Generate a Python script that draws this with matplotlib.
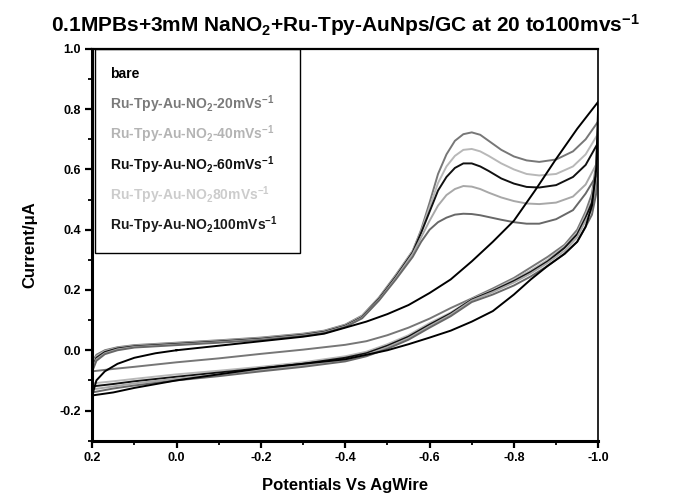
import numpy as np
import matplotlib
matplotlib.use("Agg")
from matplotlib import pyplot as plt
from matplotlib.patches import Rectangle

plt.rcParams['font.family'] = ['Liberation Sans', 'DejaVu Sans']
plt.rcParams['font.weight'] = 'bold'
plt.rcParams['mathtext.fontset'] = 'custom'
plt.rcParams['mathtext.rm'] = 'Liberation Sans:bold'
plt.rcParams['mathtext.it'] = 'Liberation Sans:bold'
plt.rcParams['mathtext.bf'] = 'Liberation Sans:bold'

# potential grid (V), forward scan 0.2 -> -1.0 and reverse scan -1.0 -> 0.2
e_fwd = [0.2, 0.19, 0.17, 0.14, 0.1, 0.0, -0.1, -0.2, -0.3, -0.35, -0.4, -0.44, -0.48,
         -0.52, -0.56, -0.58, -0.6, -0.62, -0.64, -0.66, -0.68, -0.7, -0.72, -0.74,
         -0.77, -0.8, -0.83, -0.86, -0.9, -0.94, -0.97, -1.0]
e_rev = [-1.0, -0.995, -0.985, -0.97, -0.95, -0.92, -0.88, -0.84, -0.8, -0.75, -0.7,
         -0.65, -0.6, -0.55, -0.5, -0.45, -0.4, -0.3, -0.2, -0.1, 0.0, 0.1, 0.15, 0.2]

# Ru-Tpy-Au curves, current (uA)
fwd_20 = [-0.04, -0.015, 0.0, 0.01, 0.017, 0.025, 0.033, 0.042, 0.055, 0.065, 0.085, 0.115,
          0.175, 0.25, 0.33, 0.40, 0.49, 0.585, 0.65, 0.695, 0.717, 0.723, 0.715, 0.695,
          0.665, 0.643, 0.63, 0.625, 0.633, 0.66, 0.70, 0.76]
rev_20 = [0.76, 0.62, 0.52, 0.46, 0.40, 0.35, 0.31, 0.275, 0.24, 0.205, 0.172, 0.14, 0.105,
          0.075, 0.05, 0.03, 0.018, 0.002, -0.012, -0.027, -0.04, -0.055, -0.062, -0.07]
fwd_40 = [-0.05, -0.02, -0.003, 0.008, 0.015, 0.023, 0.031, 0.04, 0.053, 0.063, 0.083,
          0.113, 0.172, 0.247, 0.33, 0.395, 0.475, 0.555, 0.61, 0.645, 0.665, 0.668, 0.66,
          0.645, 0.62, 0.6, 0.585, 0.58, 0.585, 0.61, 0.65, 0.72]
rev_40 = [0.72, 0.6, 0.5, 0.45, 0.39, 0.345, 0.3, 0.265, 0.235, 0.2, 0.17, 0.125, 0.09,
          0.05, 0.02, -0.005, -0.02, -0.04, -0.055, -0.068, -0.08, -0.095, -0.103, -0.11]
fwd_60 = [-0.06, -0.025, -0.006, 0.006, 0.013, 0.021, 0.029, 0.038, 0.051, 0.061, 0.081,
          0.11, 0.17, 0.244, 0.325, 0.39, 0.46, 0.53, 0.575, 0.605, 0.62, 0.62, 0.61,
          0.595, 0.57, 0.553, 0.542, 0.54, 0.548, 0.575, 0.615, 0.69]
rev_60 = [0.69, 0.58, 0.49, 0.44, 0.385, 0.34, 0.295, 0.26, 0.23, 0.197, 0.168, 0.122,
          0.085, 0.045, 0.015, -0.01, -0.025, -0.045, -0.06, -0.074, -0.088, -0.103,
          -0.112, -0.12]
fwd_80 = [-0.065, -0.03, -0.01, 0.003, 0.011, 0.019, 0.027, 0.036, 0.049, 0.059, 0.079,
          0.108, 0.167, 0.24, 0.32, 0.375, 0.43, 0.48, 0.515, 0.535, 0.545, 0.543, 0.535,
          0.523, 0.507, 0.495, 0.487, 0.485, 0.49, 0.51, 0.55, 0.63]
rev_80 = [0.63, 0.55, 0.47, 0.43, 0.375, 0.33, 0.29, 0.255, 0.225, 0.193, 0.165, 0.118,
          0.08, 0.04, 0.01, -0.015, -0.032, -0.05, -0.066, -0.08, -0.094, -0.11, -0.12,
          -0.13]
fwd_100 = [-0.07, -0.035, -0.013, 0.0, 0.009, 0.017, 0.025, 0.034, 0.047, 0.057, 0.077,
           0.106, 0.165, 0.235, 0.31, 0.36, 0.4, 0.425, 0.44, 0.45, 0.453, 0.452, 0.448,
           0.442, 0.433, 0.425, 0.42, 0.42, 0.435, 0.465, 0.52, 0.59]
rev_100 = [0.59, 0.52, 0.45, 0.41, 0.36, 0.32, 0.28, 0.245, 0.215, 0.185, 0.16, 0.113,
           0.075, 0.035, 0.005, -0.02, -0.037, -0.055, -0.07, -0.086, -0.1, -0.117,
           -0.127, -0.14]

# bare electrode, scan starts at 0.0 V
e_bare = [0.0, -0.1, -0.2, -0.3, -0.35, -0.4, -0.45, -0.5, -0.55, -0.6, -0.65, -0.7, -0.75,
          -0.8, -0.85, -0.9, -0.95, -1.0, -0.995, -0.985, -0.97, -0.95, -0.92, -0.88,
          -0.84, -0.8, -0.75, -0.7, -0.65, -0.6, -0.55, -0.5, -0.45, -0.4, -0.3, -0.2,
          -0.1, 0.0, 0.1, 0.15, 0.2, 0.19, 0.17, 0.14, 0.1, 0.05, 0.0]
i_bare = [0.0, 0.015, 0.03, 0.045, 0.055, 0.075, 0.095, 0.12, 0.15, 0.19, 0.235, 0.295,
          0.36, 0.43, 0.53, 0.635, 0.735, 0.825, 0.6, 0.48, 0.41, 0.36, 0.32, 0.28, 0.235,
          0.185, 0.13, 0.095, 0.065, 0.042, 0.02, 0.0, -0.015, -0.03, -0.045, -0.06, -0.08,
          -0.1, -0.125, -0.14, -0.15, -0.1, -0.07, -0.045, -0.025, -0.01, 0.0]

labels = ['bare',
          r'Ru-Tpy-Au-NO$_2$-20mVs$^{-1}$',
          r'Ru-Tpy-Au-NO$_2$-40mVs$^{-1}$',
          r'Ru-Tpy-Au-NO$_2$-60mVs$^{-1}$',
          r'Ru-Tpy-Au-NO$_2$80mVs$^{-1}$',
          r'Ru-Tpy-Au-NO$_2$100mVs$^{-1}$']
label_colors = ['#000000', '#7a7a7a', '#b4b4b4', '#111111', '#cccccc', '#1a1a1a']
line_colors = ['#000000', '#777777', '#b8b8b8', '#111111', '#a8a8a8', '#686868']

fig = plt.figure(figsize=(6.73, 4.94), dpi=100)
ax = fig.add_axes([0.137, 0.108, 0.752, 0.793])

ru = [(fwd_20, rev_20), (fwd_40, rev_40), (fwd_60, rev_60), (fwd_80, rev_80), (fwd_100, rev_100)]
for k, (f, r) in enumerate(ru):
    ax.plot(e_fwd + e_rev, f + r, color=line_colors[k + 1], lw=1.4)
ax.plot(e_bare, i_bare, color=line_colors[0], lw=1.4)

ax.set_xlim(0.2, -1.0)
ax.set_ylim(-0.3, 1.0)
ax.set_xticks([0.2, 0.0, -0.2, -0.4, -0.6, -0.8, -1.0])
ax.set_xticklabels(['0.2', '0.0', '-0.2', '-0.4', '-0.6', '-0.8', '-1.0'])
ax.set_xticks(np.arange(0.1, -1.0, -0.2), minor=True)
ax.set_yticks([-0.2, 0.0, 0.2, 0.4, 0.6, 0.8, 1.0])
ax.set_yticklabels(['-0.2', '0.0', '0.2', '0.4', '0.6', '0.8', '1.0'])
ax.set_yticks(np.arange(-0.3, 1.0, 0.2), minor=True)

ax.tick_params(which='major', direction='out', length=5, width=1.6, labelsize=9, pad=3)
ax.tick_params(which='minor', direction='out', length=3, width=1.3)
for lab in ax.get_xticklabels() + ax.get_yticklabels():
    lab.set_fontweight('bold')
ax.spines['left'].set_linewidth(2.2)
ax.spines['bottom'].set_linewidth(2.2)
ax.spines['top'].set_linewidth(1.6)
ax.spines['right'].set_linewidth(1.2)

ax.set_xlabel('Potentials Vs AgWire', fontsize=12, fontweight='bold', labelpad=10)
ax.set_ylabel('Current/\u03bcA', fontsize=12, fontweight='bold', labelpad=16)
ax.set_title(r'0.1MPBs+3mM NaNO$_2$+Ru-Tpy-AuNps/GC at 20 to100mvs$^{-1}$',
             fontsize=15, fontweight='bold', pad=12)

# legend box (text only, coloured like the curves)
ax.add_patch(Rectangle((0.006, 0.478), 0.404, 0.522, transform=ax.transAxes,
                       fill=False, edgecolor='black', lw=1.0, zorder=5))
for k, txt in enumerate(labels):
    ax.text(0.035, 0.935 - k * 0.077, txt, transform=ax.transAxes, fontsize=10,
            fontweight='bold', color=label_colors[k], va='center', ha='left')

fig.savefig('out.png', dpi=100, facecolor='#FFFFFF')
plt.close()
